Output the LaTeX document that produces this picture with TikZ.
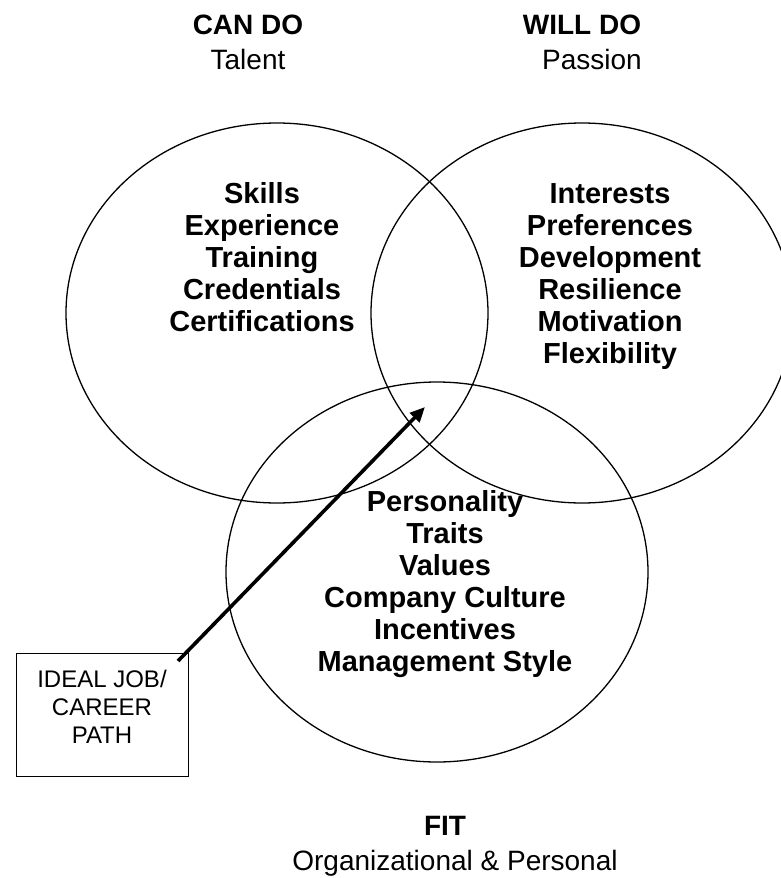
\documentclass[tikz,border=0pt]{standalone}
\usepackage{fontspec}
\setmainfont{Liberation Sans}
\usetikzlibrary{arrows.meta,shapes.geometric}
\begin{document}
\begin{tikzpicture}[x=1pt,y=-1pt,
  venn/.style={draw, ellipse, line width=1.3pt, inner sep=0pt,
    minimum width=422pt, minimum height=380pt},
  body/.style={font=\fontsize{29}{32}\selectfont\bfseries, align=center, inner sep=0pt},
  headb/.style={font=\fontsize{28}{32}\selectfont\bfseries, anchor=base, inner sep=0pt},
  headr/.style={font=\fontsize{28}{32}\selectfont, anchor=base, inner sep=0pt},
  boxtext/.style={font=\fontsize{24}{28}\selectfont, align=center, inner sep=0pt},
  pathbox/.style={draw, line width=1pt, minimum width=172pt, minimum height=123pt, inner sep=0pt},
  bigarrow/.style={-{Triangle[length=15pt,width=13pt]}, line width=3.6pt}
]
\useasboundingbox (0,0) rectangle (780,878);
\fill[white] (0,0) rectangle (780,878);

\node[venn] (can) at (277,313) {};
\node[venn] (will) at (582,313) {};
\node[venn] (fit) at (437,572) {};

\node[headb] (canT) at (248,34) {CAN DO};
\node[headr] (canS) at (248,69) {Talent};
\node[headb] (willT) at (582,34) {WILL DO};
\node[headr] (willS) at (592,69) {Passion};
\node[headb] (fitT) at (445,835) {FIT};
\node[headr] (fitS) at (455,870) {Organizational \& Personal};

\node[body] (canL) at (262,257) {Skills\\Experience\\Training\\Credentials\\Certifications};
\node[body] (willL) at (610,277) {Interests\\Preferences\\Development\\Resilience\\Motivation\\Flexibility};
\node[body] (fitL) at (445,584) {Personality\\Traits\\Values\\Company Culture\\Incentives\\Management Style};

\node[pathbox] (box) at (102,714.5) {};
\node[boxtext] (boxL) at (102,707) {IDEAL JOB/\\CAREER\\PATH};

\coordinate (as) at (178,661);
\coordinate (at) at (425,407);
\draw[bigarrow] (as) -- (at);
\end{tikzpicture}
\end{document}
